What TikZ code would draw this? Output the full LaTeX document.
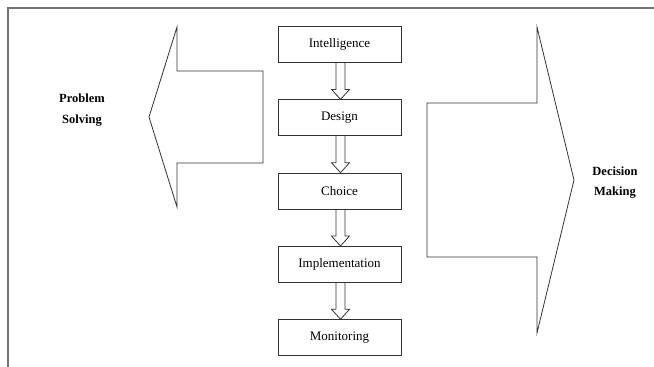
\documentclass[tikz,border=0pt]{standalone}
\usepackage{fontspec}
\setmainfont{Liberation Serif}
\usetikzlibrary{calc}
\usetikzlibrary{positioning}

\tikzset{
  phase/.style={draw=black!80, line width=0.8pt, minimum width=123pt, minimum height=36pt,
    inner sep=0pt, font=\fontsize{13}{15}\selectfont},
  bigarrow/.style={draw=black!80, line width=0.8pt, line join=miter},
  smallarrow/.style={draw=black!80, line width=0.8pt}
}

\begin{document}
\begin{tikzpicture}[x=1pt, y=-1pt]
        \useasboundingbox (0,0) rectangle (654,367);
        % frame
        \draw[black!55, line width=1.3pt] (8,367) -- (8,8) -- (654,8);
        % the phases
        \node [phase] (intel) at (339.5,44.5) {Intelligence};
        \node [phase, below=36.5pt of intel] (design) {Design};
        \node [phase, below=36.5pt of design] (choice) {Choice};
        \node [phase, below=36.5pt of choice] (impl) {Implementation};
        \node [phase, below=36.5pt of impl] (monit) {Monitoring};
        \foreach \a/\b in {intel/design, design/choice, choice/impl, impl/monit}
          \draw[smallarrow] ($(\a.south)+(-3.5,0)$) -- ($(\b.north)+(-3.5,-10)$) -- ++(-4.5,0)
            -- ($(\b.north)+(1,0)$) -- ($(\b.north)+(10,-10)$) -- ++(-4.5,0)
            -- ($(\a.south)+(5.5,0)$);
        % big arrows
        \draw[bigarrow] (263,71) -- (177,71) -- (177,27) -- (149,117) -- (177,207)
          -- (177,163) -- (263,163) -- cycle;
        \draw[bigarrow] (427,103) -- (537,103) -- (537,27) -- (574,180) -- (537,333)
          -- (537,257) -- (427,257) -- cycle;
        \node [align=center, font=\bfseries\fontsize{12.5}{20.5}\selectfont] (ps) at (82,110) {Problem\\Solving};
        \node [align=center, font=\bfseries\fontsize{12.5}{20.5}\selectfont] (dm) at (615,182.5) {Decision\\Making};
    \end{tikzpicture}
\end{document}
